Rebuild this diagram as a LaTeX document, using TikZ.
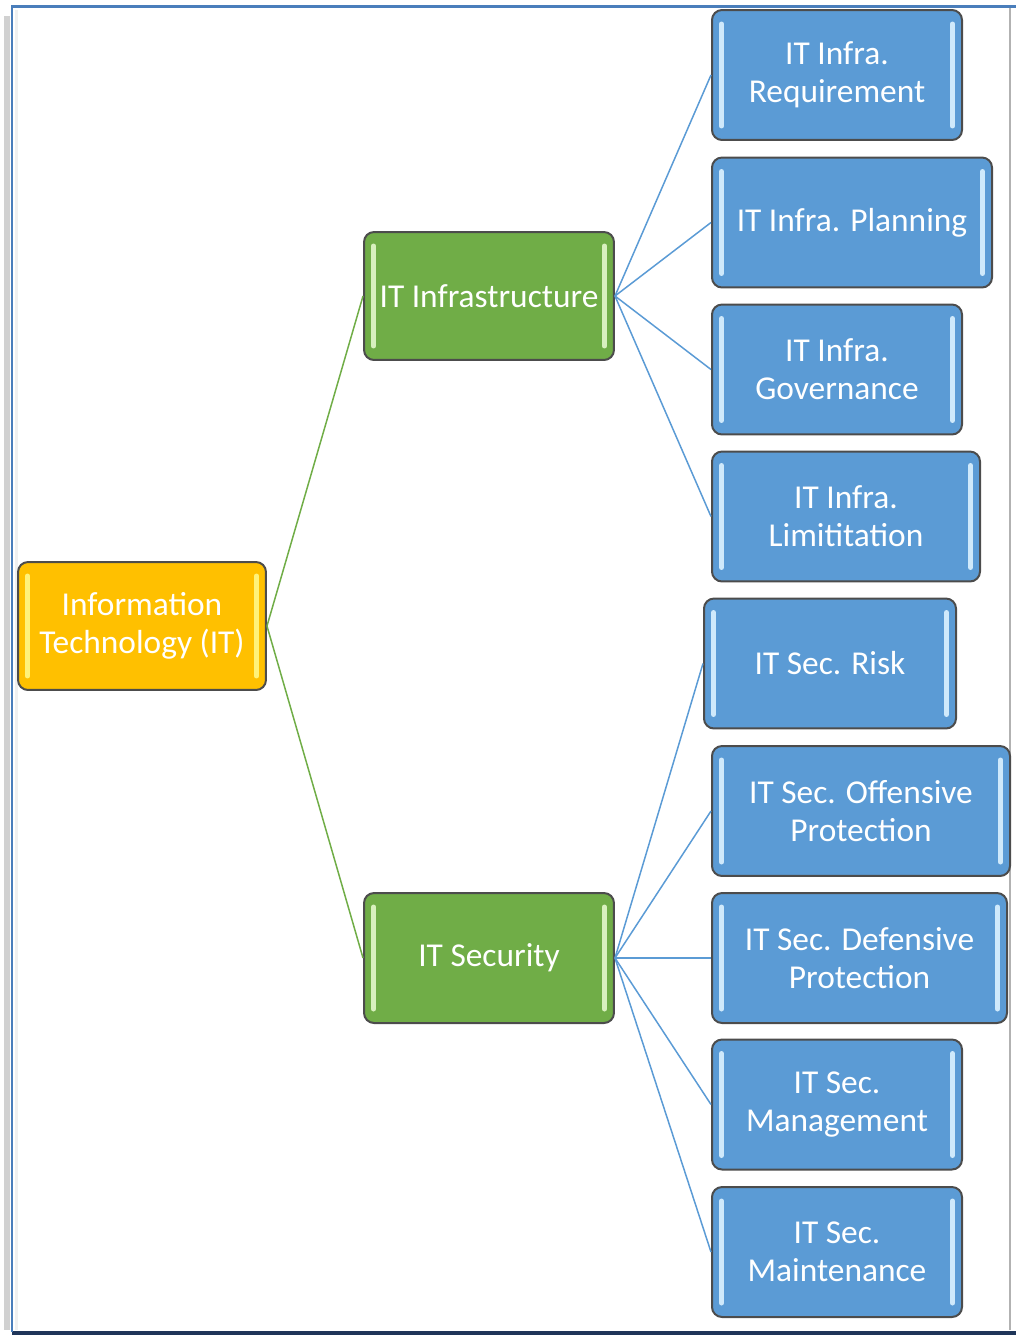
\documentclass[tikz,border=0pt]{standalone}
\usepackage{fontspec}
\setmainfont{Carlito}
\usetikzlibrary{positioning}

\definecolor{itgold}{HTML}{FFC000}
\definecolor{itgoldbar}{HTML}{FFF27A}
\definecolor{itgreen}{HTML}{70AD47}
\definecolor{itgreenbar}{HTML}{D8F0BE}
\definecolor{itblue}{HTML}{5B9BD5}
\definecolor{itbluebar}{HTML}{CFE9FB}
\definecolor{frameblue}{HTML}{4A7EBB}
\definecolor{framedark}{HTML}{1F3559}

\tikzset{
  itbox/.style 2 args={draw=black!70, line width=0.04cm, rounded corners=0.2cm,
    fill=#1, text=white, align=center, inner sep=0pt,
    font=\fontsize{19}{21.5}\selectfont,
    path picture={
      \draw[#2, line width=0.1cm, line cap=round]
        ([xshift=0.19cm,yshift=-0.28cm]path picture bounding box.north west) --
        ([xshift=0.19cm,yshift=0.28cm]path picture bounding box.south west);
      \draw[#2, line width=0.1cm, line cap=round]
        ([xshift=-0.19cm,yshift=-0.28cm]path picture bounding box.north east) --
        ([xshift=-0.19cm,yshift=0.28cm]path picture bounding box.south east);
    }},
  rootbox/.style={itbox={itgold}{itgoldbar}},
  midbox/.style={itbox={itgreen}{itgreenbar}},
  leafbox/.style={itbox={itblue}{itbluebar}},
  greenline/.style={itgreen, line width=0.03cm},
  blueline/.style={itblue, line width=0.03cm},
}

\begin{document}
\begin{tikzpicture}[x=0.02cm, y=-0.02cm]
    \useasboundingbox (0,0) rectangle (1016,1336);
    % Frame of the window
    \fill[black!18] (4,16) rectangle (10,1330);
    \fill[black!6] (15,10) rectangle (18,1330);
    \draw[black!30, line width=0.04cm] (1010,8) -- (1010,1330);
    \draw[framedark, line width=0.08cm] (12,1333) -- (1016,1333);
    \draw[frameblue, line width=0.06cm] (12,1332) -- (12,6) -- (1016,6);

    % Root and second level
    \node[rootbox, minimum width=4.96cm, minimum height=2.56cm] (it) at (142,626)
      {Information\\Technology (IT)};
    \node[midbox, minimum width=5cm, minimum height=2.56cm] (infra) at (489,296)
      {IT Infrastructure};
    \node[midbox, minimum width=5cm, minimum height=2.6cm] (sec) at (489,958)
      {IT Security};

    % Leaves: name/x/y/width/text
    \foreach \n/\x/\y/\w/\t in {
        req/837/75/250/{IT Infra.\\Requirement},
        plan/852/222.5/280/{IT Infra. Planning},
        gov/837/369.5/250/{IT Infra.\\Governance},
        lim/846/516.5/268/{IT Infra.\\Limititation},
        risk/830/663.5/252/{IT Sec. Risk},
        off/861/811/298/{IT Sec. Offensive\\Protection},
        def/859.5/958/295/{IT Sec. Defensive\\Protection},
        man/837/1104.5/250/{IT Sec.\\Management},
        mnt/837/1252/250/{IT Sec.\\Maintenance}} {
      \node[leafbox, minimum width=\w*0.02cm, minimum height=2.6cm] (\n) at (\x,\y) {\t};
    }

    % Connectors
    \draw[greenline] (it.east) -- (infra.west);
    \draw[greenline] (it.east) -- (sec.west);
    \foreach \n in {req, plan, gov, lim} {
      \draw[blueline] (infra.east) -- (\n.west);
    }
    \foreach \n in {risk, off, def, man, mnt} {
      \draw[blueline] (sec.east) -- (\n.west);
    }
  \end{tikzpicture}
\end{document}
